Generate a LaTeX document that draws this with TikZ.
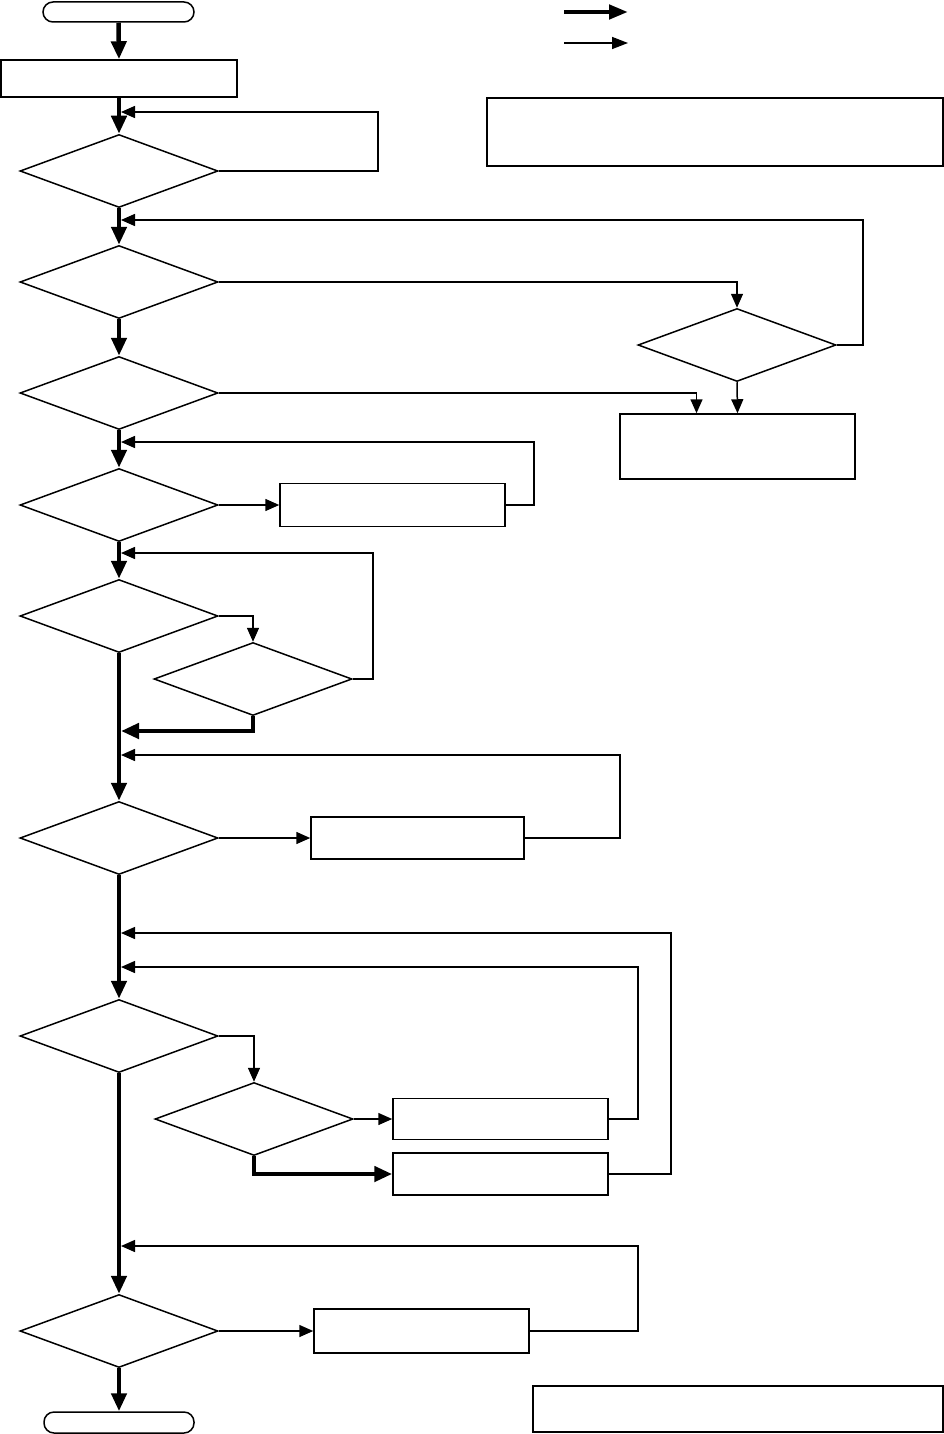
\documentclass[tikz,border=0pt]{standalone}
\usetikzlibrary{arrows.meta,shapes.geometric}
\begin{document}
\begin{tikzpicture}[x=1pt,y=-1pt,
  fl/.style={line width=1.5pt},
  tk/.style={line width=4.5pt},
  ah/.style={-{Triangle[length=14pt,width=12pt]}},
  tah/.style={-{Triangle[length=18pt,width=15pt]}},
  dia/.style={diamond,draw,line width=1.5pt,inner sep=0pt,aspect=2.7,minimum width=198pt,minimum height=73pt},
  box/.style={draw,line width=1.5pt,inner sep=0pt},
  term/.style={draw,line width=1.5pt,inner sep=0pt,rounded corners=10pt}]
\useasboundingbox (0,0) rectangle (944,1434);
% nodes
\node[term,minimum width=151pt,minimum height=20pt] (start) at (118.5,12) {};
\node[box,minimum width=236pt,minimum height=37pt] (box1) at (119,78.5) {};
\node[dia] (d1) at (119,171) {};
\node[dia] (d2) at (119,282) {};
\node[dia] (dR) at (737,345) {};
\node[box,minimum width=235pt,minimum height=65pt] (boxR) at (737.5,446.5) {};
\node[dia] (d3) at (119,393) {};
\node[dia] (d4) at (119,505) {};
\node[box,minimum width=225pt,minimum height=43pt] (box4) at (392.5,505) {};
\node[dia] (d5) at (119,616) {};
\node[dia] (d6) at (253,679) {};
\node[dia] (d7) at (119,838) {};
\node[box,minimum width=213pt,minimum height=42pt] (box7) at (417.5,838) {};
\node[dia] (d8) at (119,1036) {};
\node[dia] (d9) at (254,1119) {};
\node[box,minimum width=215pt,minimum height=41pt] (box9a) at (500.5,1119) {};
\node[box,minimum width=215pt,minimum height=42pt] (box9b) at (500.5,1174) {};
\node[dia] (d10) at (119,1331) {};
\node[box,minimum width=215pt,minimum height=44pt] (box10) at (421.5,1331) {};
\node[term,minimum width=150pt,minimum height=21pt] (end) at (119,1422.5) {};
\node[box,line width=2pt,minimum width=456pt,minimum height=68pt] (boxTR) at (715,132) {};
\node[box,line width=2pt,minimum width=410pt,minimum height=46pt] (boxBR) at (738,1409) {};
% legend
\coordinate (lga) at (564,12); \coordinate (lgb) at (628,12);
\coordinate (lgc) at (564,43); \coordinate (lgd) at (628,43);
\draw[line width=4.5pt,-{Triangle[length=19pt,width=14pt]}] (lga) -- (lgb);
\draw[fl,-{Triangle[length=16pt,width=12pt]}] (lgc) -- (lgd);
% join points on main line
\coordinate (j1) at (121,112);
\coordinate (j2) at (121,220);
\coordinate (j3) at (121,442);
\coordinate (j4) at (121,553);
\coordinate (j5) at (121,731);
\coordinate (j6) at (121,755);
\coordinate (j7) at (121,933);
\coordinate (j8) at (121,967);
\coordinate (j9) at (121,1246);
% main thick flow
\draw[tk,tah] (start.south) -- (box1.north);
\draw[tk,tah] (box1.south) -- (d1.north);
\draw[tk,tah] (d1.south) -- (d2.north);
\draw[tk,tah] (d2.south) -- (d3.north);
\draw[tk,tah] (d3.south) -- (d4.north);
\draw[tk,tah] (d4.south) -- (d5.north);
\draw[tk,tah] (d5.south) -- (d7.north);
\draw[tk,tah] (d7.south) -- (d8.north);
\draw[tk,tah] (d8.south) -- (d10.north);
\draw[tk,tah] (d10.south) -- (end.north);
% thin connectors
\draw[fl,ah] (d1.east) -- ++(159,0) |- (j1);
\draw[fl,ah] (d2.east) -| (dR.north);
\draw[fl,ah] (dR.south) -- (boxR.north);
\draw[fl,ah] (d3.east) -| ([xshift=-41pt]boxR.north);
\draw[fl,ah] (dR.east) -- ++(26,0) |- (j2);
\draw[fl,ah] (d4.east) -- (box4.west);
\draw[fl,ah] (box4.east) -- ++(28,0) |- (j3);
\draw[fl,ah] (d5.east) -| (d6.north);
\draw[fl,ah] (d6.east) -- ++(20,0) |- (j4);
\draw[tk,tah] (d6.south) |- (j5);
\draw[fl,ah] (d7.east) -- (box7.west);
\draw[fl,ah] (box7.east) -- ++(95,0) |- (j6);
\draw[fl,ah] (d8.east) -| (d9.north);
\draw[fl,ah] (d9.east) -- (box9a.west);
\draw[tk,tah] (d9.south) |- (box9b.west);
\draw[fl,ah] (box9a.east) -- ++(29,0) |- (j8);
\draw[fl,ah] (box9b.east) -- ++(62,0) |- (j7);
\draw[fl,ah] (d10.east) -- (box10.west);
\draw[fl,ah] (box10.east) -- ++(108,0) |- (j9);
\end{tikzpicture}
\end{document}
